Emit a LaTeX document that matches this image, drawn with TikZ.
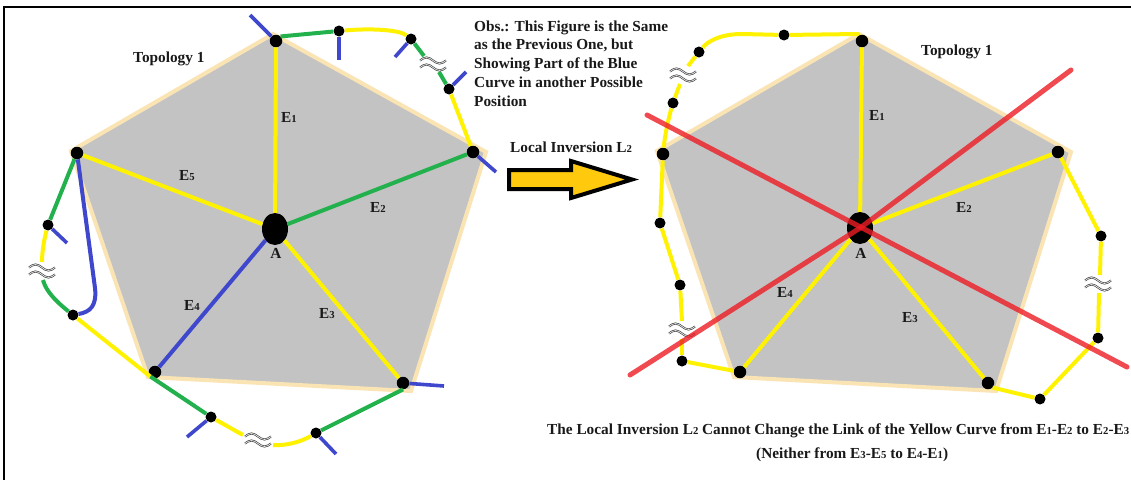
\documentclass[tikz,border=0pt]{standalone}
\usepackage{fontspec}
\setmainfont{Liberation Serif}
\usetikzlibrary{shapes.geometric}
\definecolor{pyellow}{RGB}{255,242,0}
\definecolor{pgreen}{RGB}{34,177,76}
\definecolor{pblue}{RGB}{63,72,204}
\definecolor{pgray}{RGB}{195,195,195}
\definecolor{ptan}{RGB}{250,228,180}
\definecolor{pred}{RGB}{237,28,36}
\definecolor{pgold}{RGB}{255,201,14}
\newcommand\smalldigit[1]{{\fontsize{10.7}{10.7}\selectfont #1}}
\begin{document}
\begin{tikzpicture}[x=1pt,y=-1pt,
  seg/.style={line width=4pt, line join=round},
  tick/.style={line width=3.6pt, draw=pblue},
  vdot/.style={circle, fill=black, inner sep=0pt, minimum size=12.5pt},
  sdot/.style={circle, fill=black, inner sep=0pt, minimum size=11pt},
  hub/.style={ellipse, fill=black, inner sep=0pt, minimum width=26pt, minimum height=32pt},
  pent/.style={fill=pgray, draw=ptan, line width=4pt, line join=miter},
  txt/.style={font=\bfseries\fontsize{15.3}{15.3}\selectfont, inner sep=0pt, text=black!90},
  redline/.style={draw=pred, line width=5pt, line cap=round, opacity=0.8},
  apx/.pic={
    \draw[draw=black!75, line width=0.7pt, double=white, double distance=0.6pt]
      (-13,-3.5) sin (-6.5,-6.5) cos (0,-3.5) sin (6.5,-0.5) cos (13,-3.5)
      (-13,3.5) sin (-6.5,0.5) cos (0,3.5) sin (6.5,6.5) cos (13,3.5);
  }]
\useasboundingbox (0,0) rectangle (1131,479);
\fill[white] (0,0) rectangle (1131,479);
\draw[line width=1.6pt] (1131,7) -- (4,7) -- (4,480);

% ---------- left pentagon ----------
\filldraw[pent] (273,34) -- (486,152) -- (411,391) -- (148,377) -- (71,151) -- cycle;
\node[vdot] (T) at (276,41) {};
\node[vdot] (R) at (473,152) {};
\node[vdot] (BR) at (403,383) {};
\node[vdot] (BL) at (155,372) {};
\node[vdot] (L) at (77,153) {};
\node[hub] (A) at (275,229) {};
\node[sdot] (o1) at (339,31) {};
\node[sdot] (o2) at (411,39) {};
\node[sdot] (o3) at (449,89) {};
\node[sdot] (o4) at (48,225) {};
\node[sdot] (o5) at (73,315) {};
\node[sdot] (o6) at (211,417) {};
\node[sdot] (o7) at (316,433) {};
\coordinate (g1a) at (424,56);
\coordinate (g1b) at (439,72);
\coordinate (g2a) at (42,262);
\coordinate (g2b) at (43,280);
\coordinate (g3a) at (243,435);
\coordinate (g3b) at (273,445);
\coordinate (b1) at (95,288);
\coordinate (k1) at (250,15);
\coordinate (k2) at (339,60);
\coordinate (k3) at (395,57);
\coordinate (k4) at (466,72);
\coordinate (k5) at (496,172);
\coordinate (k6) at (67,243);
\coordinate (k7) at (187,437);
\coordinate (k8) at (336,454);
\coordinate (k9) at (444,386);

% spokes
\draw[seg,pyellow] (A) -- (T);
\draw[seg,pgreen] (A) -- (R);
\draw[seg,pyellow] (A) -- (BR);
\draw[seg,pblue] (A) -- (BL);
\draw[seg,pyellow] (A) -- (L);

% outer curve
\draw[seg,pgreen] (T.north east) -- (o1);
\draw[seg,pyellow] (o1) .. controls (372,28) and (400,30) .. (o2);
\draw[seg,pgreen] (o2) -- (g1a);
\draw[seg,pgreen] (g1b) -- (o3);
\draw[seg,pyellow] (o3) -- (R);
\draw[seg,pgreen] (L) -- (o4);
\draw[seg,pyellow] (o4) .. controls (44,240) and (42,252) .. (g2a);
\draw[seg,pgreen] (g2b) .. controls (46,292) and (58,303) .. (o5);
\draw[seg,pblue] (L) -- (b1) .. controls (97,306) and (90,312) .. (o5);
\draw[seg,pyellow] (o5) -- (BL.south west);
\draw[seg,pgreen] (BL.south west) -- (o6);
\draw[seg,pyellow] (o6) -- (g3a);
\draw[seg,pyellow] (g3b) .. controls (290,446) and (304,440) .. (o7);
\draw[seg,pgreen] (o7) -- (BR.south);
\pic at (433,64) {apx};
\pic at (42,271) {apx};
\pic at (258,440) {apx};

% blue ticks
\draw[tick] (T) -- (k1);
\draw[tick] (o1) -- (k2);
\draw[tick] (o2) -- (k3);
\draw[tick] (o3) -- (k4);
\draw[tick] (R) -- (k5);
\draw[tick] (o4) -- (k6);
\draw[tick] (o6) -- (k7);
\draw[tick] (o7) -- (k8);
\draw[tick] (BR) -- (k9);

% labels left
\node[txt, anchor=base west] (tl) at (133,62) {Topology 1};
\node[txt, anchor=base west] (e1) at (281,122) {E\smalldigit{1}};
\node[txt, anchor=base west] (e5) at (179,180) {E\smalldigit{5}};
\node[txt, anchor=base west] (e2) at (370,212) {E\smalldigit{2}};
\node[txt, anchor=base west] (e4) at (184,310) {E\smalldigit{4}};
\node[txt, anchor=base west] (e3) at (319,318) {E\smalldigit{3}};
\node[txt, anchor=base] (al) at (276,258) {A};

% ---------- middle text and arrow ----------
\node[txt, anchor=base west] (ob1) at (474,31) {Obs.: This Figure is the Same};
\node[txt, anchor=base west] (ob2) at (474,49) {as the Previous One, but};
\node[txt, anchor=base west] (ob3) at (474,68) {Showing Part of the Blue};
\node[txt, anchor=base west] (ob4) at (474,87) {Curve in another Possible};
\node[txt, anchor=base west] (ob5) at (474,106) {Position};
\node[txt, anchor=base west] (li) at (510,152) {Local Inversion L\smalldigit{2}};
\filldraw[fill=pgold, draw=black, line width=4pt, line join=miter]
  (509,170) -- (571,170) -- (571,161) -- (632,179.5) -- (571,198) -- (571,189) -- (509,189) -- cycle;

% ---------- right pentagon ----------
\filldraw[pent] (859,34) -- (1071,152) -- (996,391) -- (734,377) -- (657,151) -- cycle;
\node[vdot] (T2) at (862,41) {};
\node[vdot] (R2) at (1058,152) {};
\node[vdot] (BR2) at (988,383) {};
\node[vdot] (BL2) at (740,372) {};
\node[vdot] (L2) at (663,154) {};
\node[hub] (A2) at (860,228) {};
\node[sdot] (p1) at (784,35) {};
\node[sdot] (p2) at (699,52) {};
\node[sdot] (p3) at (673,103) {};
\node[sdot] (p4) at (660,223) {};
\node[sdot] (p5) at (680,285) {};
\node[sdot] (p6) at (682,361) {};
\node[sdot] (q1) at (1101,236) {};
\node[sdot] (q2) at (1098,338) {};
\node[sdot] (q3) at (1040,399) {};
\coordinate (c1) at (858,34);
\coordinate (c2) at (742,34);
\coordinate (g4a) at (688,66);
\coordinate (g4b) at (680,84);
\coordinate (g5a) at (682,321);
\coordinate (g5b) at (682,339);
\coordinate (g6a) at (1100,275);
\coordinate (g6b) at (1099,293);

\draw[seg,pyellow] (A2) -- (T2);
\draw[seg,pyellow] (A2) -- (R2);
\draw[seg,pyellow] (A2) -- (BR2);
\draw[seg,pyellow] (A2) -- (BL2);

\draw[seg,pyellow] (T2) -- (c1) -- (p1);
\draw[seg,pyellow] (p1) -- (c2) .. controls (721,34) and (708,41) .. (p2);
\draw[seg,pyellow] (p2) -- (g4a);
\draw[seg,pyellow] (g4b) -- (p3);
\draw[seg,pyellow] (p3) .. controls (668,120) and (665,135) .. (L2);
\draw[seg,pyellow] (L2) -- (p4);
\draw[seg,pyellow] (p4) -- (p5);
\draw[seg,pyellow] (p5) -- (g5a);
\draw[seg,pyellow] (g5b) -- (p6);
\draw[seg,pyellow] (p6) -- (BL2);
\draw[seg,pyellow] (R2) -- (q1);
\draw[seg,pyellow] (q1) -- (g6a);
\draw[seg,pyellow] (g6b) -- (q2);
\draw[seg,pyellow] (q2) -- (q3);
\draw[seg,pyellow] (q3) -- (BR2.south east);
\pic at (683,75) {apx};
\pic at (682,330) {apx};
\pic at (1098,284) {apx};

% labels right
\node[txt, anchor=base west] (tr) at (921,55) {Topology 1};
\node[txt, anchor=base west] (f1) at (869,120) {E\smalldigit{1}};
\node[txt, anchor=base west] (f2) at (956,212) {E\smalldigit{2}};
\node[txt, anchor=base west] (f4) at (777,297) {E\smalldigit{4}};
\node[txt, anchor=base west] (f3) at (902,322) {E\smalldigit{3}};
\node[txt, anchor=base] (ar) at (861,258) {A};

% red crosses
\coordinate (r1a) at (647,115);
\coordinate (r1b) at (1127,367);
\coordinate (r2a) at (1071,70);
\coordinate (r2b) at (630,375);
\draw[redline] (r1a) -- (r1b);
\draw[redline] (r2a) -- (A2.center) -- (r2b);

% bottom text
\node[txt, anchor=base west] (bt1) at (547,434) {The Local Inversion L\smalldigit{2} Cannot Change the Link of the Yellow Curve from E\smalldigit{1}-E\smalldigit{2} to E\smalldigit{2}-E\smalldigit{3}};
\node[txt, anchor=base west] (bt2) at (756,458) {(Neither from E\smalldigit{3}-E\smalldigit{5} to E\smalldigit{4}-E\smalldigit{1})};
\end{tikzpicture}
\end{document}
